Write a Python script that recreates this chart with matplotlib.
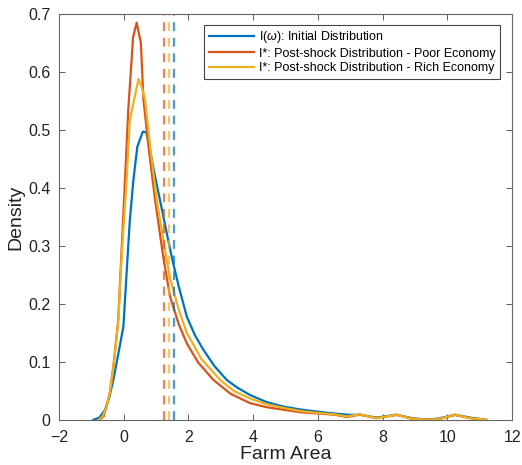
import matplotlib
matplotlib.use("Agg")
import matplotlib.pyplot as plt

plt.rcParams['font.family'] = ['Liberation Sans', 'DejaVu Sans']
plt.rcParams['mathtext.fontset'] = 'custom'
plt.rcParams['mathtext.it'] = 'Liberation Sans:italic'

# initial distribution
x_init = [-0.94, -0.75, -0.58, -0.45, -0.32, -0.18, -0.01, 0.14, 0.19, 0.30, 0.42, 0.59,
          0.70, 0.81, 0.95, 1.12, 1.33, 1.48, 1.70, 1.95, 2.20, 2.46, 2.80, 3.18, 3.50,
          3.90, 4.40, 4.93, 5.45, 5.96, 6.50, 6.99, 7.30, 7.80, 8.44, 8.90, 9.30, 9.70,
          10.24, 10.70, 11.20]
y_init = [0, 0.004, 0.017, 0.038, 0.069, 0.11, 0.161, 0.30, 0.345, 0.414, 0.471, 0.497,
          0.496, 0.466, 0.425, 0.379, 0.322, 0.282, 0.23, 0.178, 0.146, 0.121, 0.093, 0.069,
          0.056, 0.043, 0.031, 0.023, 0.018, 0.0144, 0.011, 0.0086, 0.009, 0.004, 0.009,
          0.003, 0.0008, 0.002, 0.009, 0.004, 0.0]

# post-shock, poor economy
x_poor = [-0.75, -0.62, -0.53, -0.42, -0.32, -0.17, -0.06, 0.04, 0.14, 0.29, 0.40, 0.53,
          0.61, 0.78, 0.97, 1.22, 1.43, 1.70, 1.95, 2.30, 2.77, 3.30, 3.90, 4.40, 5.0, 5.5,
          6.0, 6.5, 6.9, 7.3, 7.8, 8.44, 8.9, 9.3, 9.7, 10.24, 10.7, 11.2]
y_poor = [0, 0.006, 0.023, 0.05, 0.092, 0.172, 0.299, 0.414, 0.534, 0.66, 0.685, 0.65,
          0.552, 0.465, 0.379, 0.282, 0.213, 0.165, 0.132, 0.099, 0.069, 0.045, 0.029,
          0.022, 0.017, 0.013, 0.011, 0.009, 0.005, 0.009, 0.003, 0.0085, 0.002, 0.0005,
          0.001, 0.0085, 0.003, 0.0]

# post-shock, rich economy
x_rich = [-0.78, -0.65, -0.53, -0.42, -0.32, -0.17, -0.06, 0.09, 0.19, 0.34, 0.46, 0.55,
          0.66, 0.82, 1.02, 1.31, 1.43, 1.70, 1.95, 2.40, 2.98, 3.40, 3.90, 4.40, 5.0, 5.5,
          6.0, 6.5, 6.9, 7.3, 7.8, 8.44, 8.9, 9.3, 9.7, 10.24, 10.7, 11.2]
y_rich = [0, 0.006, 0.022, 0.05, 0.09, 0.168, 0.285, 0.414, 0.517, 0.557, 0.588, 0.575,
          0.552, 0.47, 0.379, 0.282, 0.245, 0.19, 0.150, 0.105, 0.069, 0.05, 0.037, 0.027,
          0.02, 0.015, 0.012, 0.0095, 0.006, 0.0095, 0.003, 0.009, 0.002, 0.0005, 0.001,
          0.009, 0.003, 0.0]

# means (dashed lines)
mean_poor = 1.245
mean_rich = 1.40
mean_init = 1.55

labels = [r"I($\omega$): Initial Distribution",
          "I*: Post-shock Distribution - Poor Economy",
          "I*: Post-shock Distribution - Rich Economy"]

c_blue = '#0072BD'
c_red = '#D95319'
c_yel = '#EDB120'

fig = plt.figure(figsize=(5.22, 4.65), dpi=100)
ax = fig.add_axes([0.113, 0.097, 0.868, 0.873])

ax.plot(x_init, y_init, color=c_blue, lw=1.6, label=labels[0])
ax.plot(x_poor, y_poor, color=c_red, lw=1.6, label=labels[1])
ax.plot(x_rich, y_rich, color=c_yel, lw=1.6, label=labels[2])

for m, c in [(mean_poor, c_red), (mean_rich, c_yel), (mean_init, c_blue)]:
    ax.axvline(m, color=c, lw=1.6, ls=(0, (4, 3)), alpha=0.7)

ax.set_xlim(-2, 12)
ax.set_ylim(0, 0.7)
ax.set_xticks(range(-2, 13, 2))
ax.set_yticks([0, 0.1, 0.2, 0.3, 0.4, 0.5, 0.6, 0.7])
ax.set_yticklabels(['0', '0.1', '0.2', '0.3', '0.4', '0.5', '0.6', '0.7'])
ax.tick_params(direction='in', top=True, right=True, length=4, width=0.6,
               labelsize=11.5, color='#444444', labelcolor='#222222')
ax.tick_params(axis='x', pad=7)
ax.tick_params(axis='y', pad=6)
for s in ax.spines.values():
    s.set_color('#666666')
    s.set_linewidth(0.8)

ax.set_xlabel("Farm Area", fontsize=14, color='#222222', labelpad=1)
ax.set_ylabel("Density", fontsize=14, color='#222222', labelpad=3)

leg = ax.legend(loc='upper right', bbox_to_anchor=(0.973, 0.973), borderaxespad=0,
                fontsize=9, fancybox=False, framealpha=1, edgecolor='#444444',
                handlelength=3.6, handletextpad=0.4, labelspacing=0.2,
                borderpad=0.35)
leg.get_frame().set_linewidth(0.8)

fig.savefig("out.png", dpi=100)
